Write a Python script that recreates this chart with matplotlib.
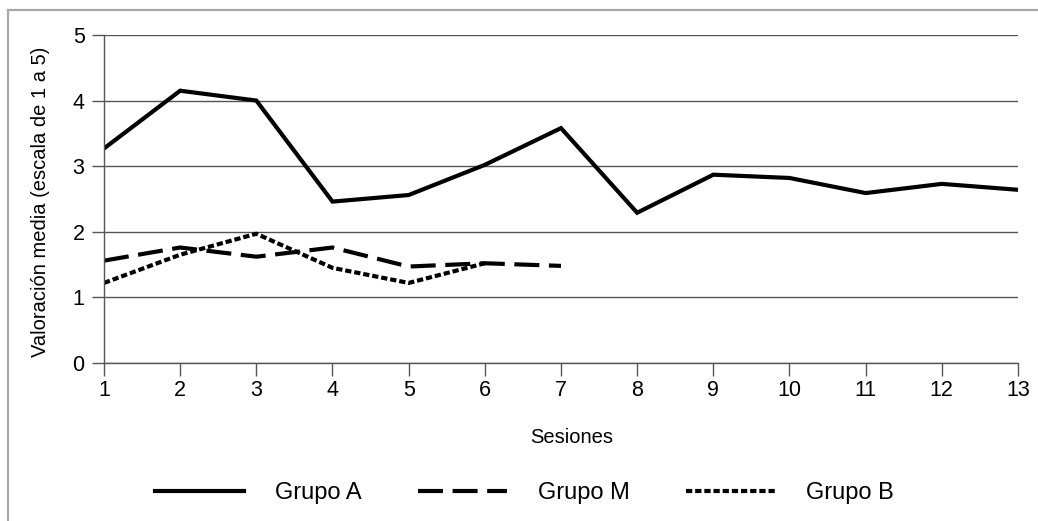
import matplotlib
matplotlib.use('Agg')
import matplotlib.pyplot as plt
from matplotlib.lines import Line2D

plt.rcParams['font.family'] = ['Liberation Sans', 'DejaVu Sans']

# datos
sesiones = list(range(1, 14))
grupo_a = [3.27, 4.15, 4.0, 2.46, 2.56, 3.02, 3.58, 2.29, 2.87, 2.82, 2.59, 2.73, 2.64]
sesiones_m = list(range(1, 8))
grupo_m = [1.56, 1.76, 1.62, 1.76, 1.47, 1.52, 1.48]
sesiones_b = list(range(1, 7))
grupo_b = [1.22, 1.65, 1.97, 1.45, 1.22, 1.52]
y_ticks = [0, 1, 2, 3, 4, 5]

fig = plt.figure(figsize=(10.38, 5.21), dpi=100)
ax = fig.add_axes([0.1002, 0.3033, 0.8805, 0.6296])

ax.plot(sesiones, grupo_a, color='black', lw=3, solid_joinstyle='miter',
        label='Grupo A')
ax.plot(sesiones_m, grupo_m, color='black', lw=3, dashes=(6, 2.3),
        label='Grupo M')
ax.plot(sesiones_b, grupo_b, color='black', lw=3, dashes=(1.5, 0.7),
        label='Grupo B')

ax.set_xlim(1, 13)
ax.set_ylim(0, 5)
ax.set_xticks(sesiones)
ax.set_yticks(y_ticks)
ax.grid(axis='y', color='#555555', lw=1)
ax.set_axisbelow(True)

for s in ['top', 'right']:
    ax.spines[s].set_visible(False)
for s in ['left', 'bottom']:
    ax.spines[s].set_color('#555555')
    ax.spines[s].set_linewidth(1)

ax.tick_params(axis='y', direction='out', length=9, width=1, color='#555555',
               labelsize=15.5, pad=5)
ax.tick_params(axis='x', direction='out', length=9, width=1, color='#555555',
               labelsize=15.5, pad=3)

ax.set_xlabel('Sesiones', fontsize=14.5, va='center')
ax.xaxis.set_label_coords(0.512, -0.226)
ax.set_ylabel('Valoración media (escala de 1 a 5)', fontsize=14.5, va='center')
ax.yaxis.set_label_coords(-0.070, 0.49)

fig.legend(loc='center', bbox_to_anchor=(0.505, 0.053), ncol=3, frameon=False,
           fontsize=17, handlelength=3.77, columnspacing=2.4, handletextpad=1.3)

# marco exterior (solo se ve arriba y a la izquierda)
fig.add_artist(Line2D([8 / 1038, 8 / 1038], [0, 1 - 10 / 521],
                      transform=fig.transFigure, color='#a8a8a8', lw=1.6))
fig.add_artist(Line2D([8 / 1038, 1], [1 - 10 / 521, 1 - 10 / 521],
                      transform=fig.transFigure, color='#a8a8a8', lw=1.6))

fig.savefig('out.png', dpi=100)
